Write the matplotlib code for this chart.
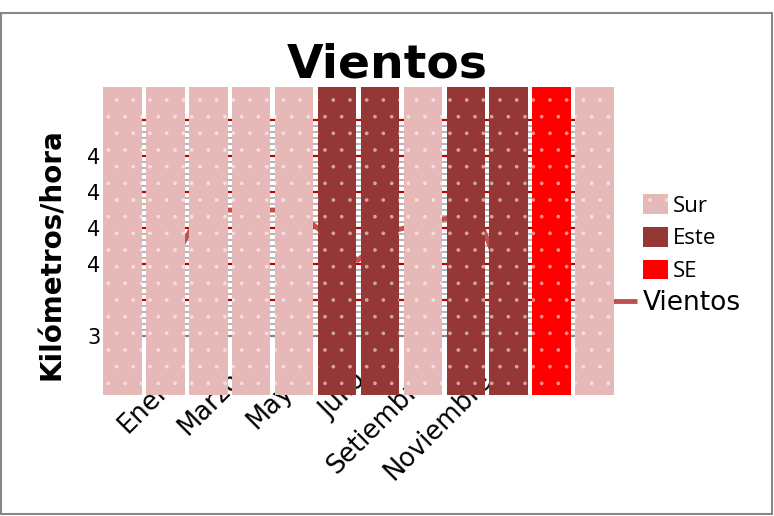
import numpy as np
import matplotlib
matplotlib.use('Agg')
import matplotlib.pyplot as plt
import matplotlib.patches as mpatches
import matplotlib.transforms as mtransforms
from matplotlib.ticker import FixedLocator

# datos
meses = ['Enero', 'Febrero', 'Marzo', 'Abril', 'Mayo', 'Junio', 'Julio',
         'Agosto', 'Setiembre', 'Octubre', 'Noviembre', 'Diciembre']
vientos = [3.49, 3.65, 3.65, 3.65, 3.65, 3.58, 3.51, 3.59, 3.61, 3.63, 3.60, 3.38]
direccion = ['Sur', 'Sur', 'Sur', 'Sur', 'Sur', 'Este', 'Este', 'Sur', 'Este', 'Este', 'SE', 'Sur']
alturas = [1] * 12
colores = {'Sur': '#E6B9B8', 'Este': '#953735', 'SE': '#FF0000'}
ytick_vals = [3.3, 3.4, 3.5, 3.6, 3.7, 3.8, 3.9]
ytick_labels = ['3', '', '4', '4', '4', '4', '']

plt.rcParams['hatch.linewidth'] = 0.2

fig = plt.figure(figsize=(7.74, 5.16), dpi=100)
rect = [103 / 774, 1 - 395 / 516, 511 / 774, 308 / 516]

# eje de la linea (detras)
ax = fig.add_axes(rect)
ax.plot(range(12), vientos, color='#C0504D', lw=3.5, label='Vientos', solid_capstyle='butt')
ax.set_xlim(-2.14, 14.19)
ax.set_ylim(3.136, 3.992)
for s in ax.spines.values():
    s.set_visible(False)
ax.set_yticks(ytick_vals)
ax.set_yticklabels(ytick_labels, fontsize=15)
ax.yaxis.set_minor_locator(FixedLocator(np.arange(3.3, 3.9, 0.1 / 6)))
ax.yaxis.grid(True, which='minor', color='#B0B0B0', lw=1.3)
ax.yaxis.grid(True, which='major', color='#C00000', lw=1.6)
ax.get_ygridlines()[0].set_color('#888888')
ax.set_axisbelow(True)
ax.set_xticks(range(0, 12, 2))
ax.set_xticklabels(meses[::2], rotation=45, ha='right', fontsize=18.5)
ax.tick_params(axis='both', which='both', length=0)
ax.tick_params(axis='x', pad=-20)
ax.tick_params(axis='y', pad=2)
# etiquetas del eje x algo corridas a la derecha
desp = mtransforms.ScaledTranslation(14 / 100, 0, fig.dpi_scale_trans)
for lab in ax.get_xticklabels():
    lab.set_transform(lab.get_transform() + desp)
ax.legend(loc='upper left', bbox_to_anchor=(585 / 774, 1 - 290 / 516),
          bbox_transform=fig.transFigure, frameon=False, fontsize=19,
          handlelength=1.97, handletextpad=0.23, borderpad=0, borderaxespad=0)

# eje de las barras (delante)
axb = fig.add_axes(rect)
axb.patch.set_visible(False)
axb.axis('off')
axb.bar(range(12), alturas, width=0.9, color=[colores[d] for d in direccion],
        hatch='.', edgecolor=(1, 1, 1, 0.55), linewidth=0)
axb.set_xlim(-0.45, 11.45)
axb.set_ylim(0, 1)

handles = [mpatches.Patch(facecolor=colores['Sur'], edgecolor=(1, 1, 1, 0.5), hatch='.', lw=0),
           mpatches.Patch(facecolor=colores['Este'], lw=0),
           mpatches.Patch(facecolor=colores['SE'], lw=0)]
axb.legend(handles, ['Sur', 'Este', 'SE'], loc='upper left',
           bbox_to_anchor=(643 / 774, 1 - 194 / 516), bbox_transform=fig.transFigure,
           frameon=False, prop={'family': 'Open Sans', 'size': 16},
           handlelength=1.13, handleheight=1.0, handletextpad=0.2,
           labelspacing=0.46, borderpad=0, borderaxespad=0)

fig.text(0.5, 1 - 78 / 516, 'Vientos', ha='center', va='baseline',
         fontsize=34, fontweight='bold')
fig.text(52 / 774, 1 - 254 / 516, 'Kilómetros/hora', rotation=90, ha='center',
         va='center', fontsize=20, fontweight='bold')

fig.patches.append(mpatches.Rectangle((0.0013, 0.0039), 0.996, 0.9709, transform=fig.transFigure,
                                      fill=False, edgecolor='#888888', lw=1.5))

fig.savefig('out.png', dpi=100)
